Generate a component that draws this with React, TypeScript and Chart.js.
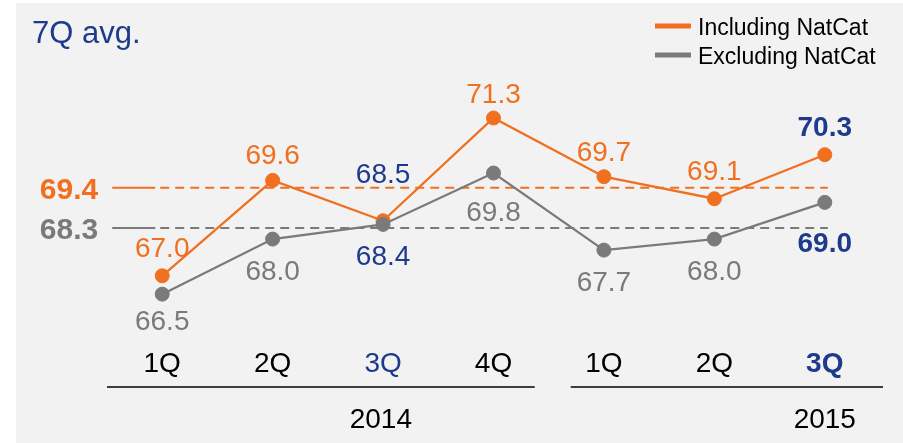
import React, { useEffect, useRef } from "react";
import { Chart, registerables } from "chart.js";

Chart.register(...registerables);

const categories = ["1Q", "2Q", "3Q", "4Q", "1Q", "2Q", "3Q"];
const years = ["2014", "2015"];
const yearGroups = [
  [0, 3],
  [4, 6],
];
const includingNatCat = [67.0, 69.6, 68.5, 71.3, 69.7, 69.1, 70.3];
const excludingNatCat = [66.5, 68.0, 68.4, 69.8, 67.7, 68.0, 69.0];
const avgIncluding = 69.4;
const avgExcluding = 68.3;
const seriesNames = ["Including NatCat", "Excluding NatCat"];
const titleText = "7Q avg.";

// styling
const ORANGE = "#F07020";
const GRAY = "#7A7A7A";
const BLUE = "#1E3A8C";
const FONT = "'Liberation Sans', Arial, Helvetica, sans-serif";
const incLabelOffsets = [-19, -16, -38, -15, -16, -19, -19];
const excLabelOffsets = [36, 41, 41, 48, 41, 41, 50];
// per-category label styles: 0 normal, 1 blue, 2 bold blue
const highlight = [0, 0, 1, 0, 0, 0, 2];

const overlayPlugin = {
  id: "overlay",
  beforeDraw(chart: any) {
    const ctx = chart.ctx;
    ctx.save();
    ctx.fillStyle = "#F2F2F2";
    ctx.fillRect(16, 3, chart.width - 16, chart.height - 3);
    ctx.restore();
  },
  beforeDatasetsDraw(chart: any) {
    const ctx = chart.ctx;
    const x = chart.scales.x;
    const y = chart.scales.y;
    const x0 = x.getPixelForValue(0);
    const xN = x.getPixelForValue(categories.length - 1);
    ctx.save();
    ctx.lineWidth = 2;
    const avgs: [number, string][] = [
      [avgIncluding, ORANGE],
      [avgExcluding, GRAY],
    ];
    avgs.forEach(([v, c]) => {
      const py = y.getPixelForValue(v);
      ctx.strokeStyle = c;
      ctx.setLineDash([]);
      ctx.beginPath();
      ctx.moveTo(x0 - 50, py);
      ctx.lineTo(x0 - 7, py);
      ctx.stroke();
      ctx.setLineDash([9, 6]);
      ctx.beginPath();
      ctx.moveTo(x0 - 2, py);
      ctx.lineTo(xN + 3, py);
      ctx.stroke();
      ctx.setLineDash([]);
      ctx.fillStyle = c;
      ctx.font = `bold 30px ${FONT}`;
      ctx.textAlign = "right";
      ctx.textBaseline = "alphabetic";
      ctx.fillText(v.toFixed(1), x0 - 64, py + 11);
    });
    ctx.restore();
  },
  afterDatasetsDraw(chart: any) {
    const ctx = chart.ctx;
    const x = chart.scales.x;
    const y = chart.scales.y;
    ctx.save();
    ctx.textAlign = "center";
    ctx.textBaseline = "alphabetic";
    categories.forEach((cat, i) => {
      const px = x.getPixelForValue(i);
      const h = highlight[i];
      const weight = h === 2 ? "bold " : "";
      ctx.font = `${weight}28px ${FONT}`;
      // including label
      ctx.fillStyle = h ? BLUE : ORANGE;
      ctx.fillText(
        includingNatCat[i].toFixed(1),
        px,
        y.getPixelForValue(includingNatCat[i]) + incLabelOffsets[i]
      );
      ctx.fillStyle = h ? BLUE : GRAY;
      ctx.fillText(
        excludingNatCat[i].toFixed(1),
        px,
        y.getPixelForValue(excludingNatCat[i]) + excLabelOffsets[i]
      );
      // tick label
      ctx.fillStyle = h ? BLUE : "#000000";
      ctx.fillText(cat, px, 372);
    });
    // group lines and years
    ctx.strokeStyle = "#000000";
    ctx.lineWidth = 1.5;
    const step = x.getPixelForValue(1) - x.getPixelForValue(0);
    yearGroups.forEach(([a, b], gi) => {
      const left = x.getPixelForValue(a) - step / 2 + (gi === 0 ? 0 : 22);
      const right = x.getPixelForValue(b) + step / 2 - (gi === 0 ? 14 : -3);
      ctx.beginPath();
      ctx.moveTo(left, 387);
      ctx.lineTo(right, 387);
      ctx.stroke();
      ctx.fillStyle = "#000000";
      ctx.font = `28px ${FONT}`;
      const cx = gi === 0 ? (x.getPixelForValue(a) + x.getPixelForValue(b)) / 2 + 53 : x.getPixelForValue(b);
      ctx.fillText(years[gi], cx, 428);
    });
    // title
    ctx.textAlign = "left";
    ctx.fillStyle = BLUE;
    ctx.font = `31px ${FONT}`;
    ctx.fillText(titleText, 32, 43);
    // legend
    const legendColors = [ORANGE, GRAY];
    const legendY = [26, 55];
    ctx.font = `23px ${FONT}`;
    seriesNames.forEach((name, i) => {
      ctx.fillStyle = legendColors[i];
      ctx.fillRect(655, legendY[i] - 2.5, 36, 5);
      ctx.fillStyle = "#000000";
      ctx.fillText(name, 698, legendY[i] + 9);
    });
    ctx.restore();
  },
};

export default function App() {
  const ref = useRef<HTMLCanvasElement>(null);
  useEffect(() => {
    if (!ref.current) return;
    const chart = new Chart(ref.current, {
      type: "line",
      data: {
        labels: categories,
        datasets: [
          {
            label: seriesNames[0],
            data: includingNatCat,
            borderColor: ORANGE,
            backgroundColor: ORANGE,
            borderWidth: 2.25,
            pointRadius: 7,
            pointBorderWidth: 1,
            pointBackgroundColor: ORANGE,
            pointBorderColor: ORANGE,
            order: 1,
          },
          {
            label: seriesNames[1],
            data: excludingNatCat,
            borderColor: GRAY,
            backgroundColor: GRAY,
            borderWidth: 2.25,
            pointRadius: 7,
            pointBorderWidth: 1,
            pointBackgroundColor: GRAY,
            pointBorderColor: GRAY,
            order: 0,
          },
        ],
      },
      options: {
        responsive: false,
        animation: false,
        devicePixelRatio: 1,
        layout: { padding: { left: 107, right: 23, top: 44.6, bottom: 108.5 } },
        plugins: { legend: { display: false }, tooltip: { enabled: false } },
        scales: {
          x: { type: "category", display: false, offset: true },
          y: { display: false, min: 65.4, max: 73.3 },
        },
      },
      plugins: [overlayPlugin],
    });
    return () => chart.destroy();
  }, []);
  return (
    <div style={{ position: "fixed", left: 0, top: 0, width: 903, height: 443 }}>
      <canvas ref={ref} width={903} height={443} style={{ width: 903, height: 443 }} />
    </div>
  );
}
